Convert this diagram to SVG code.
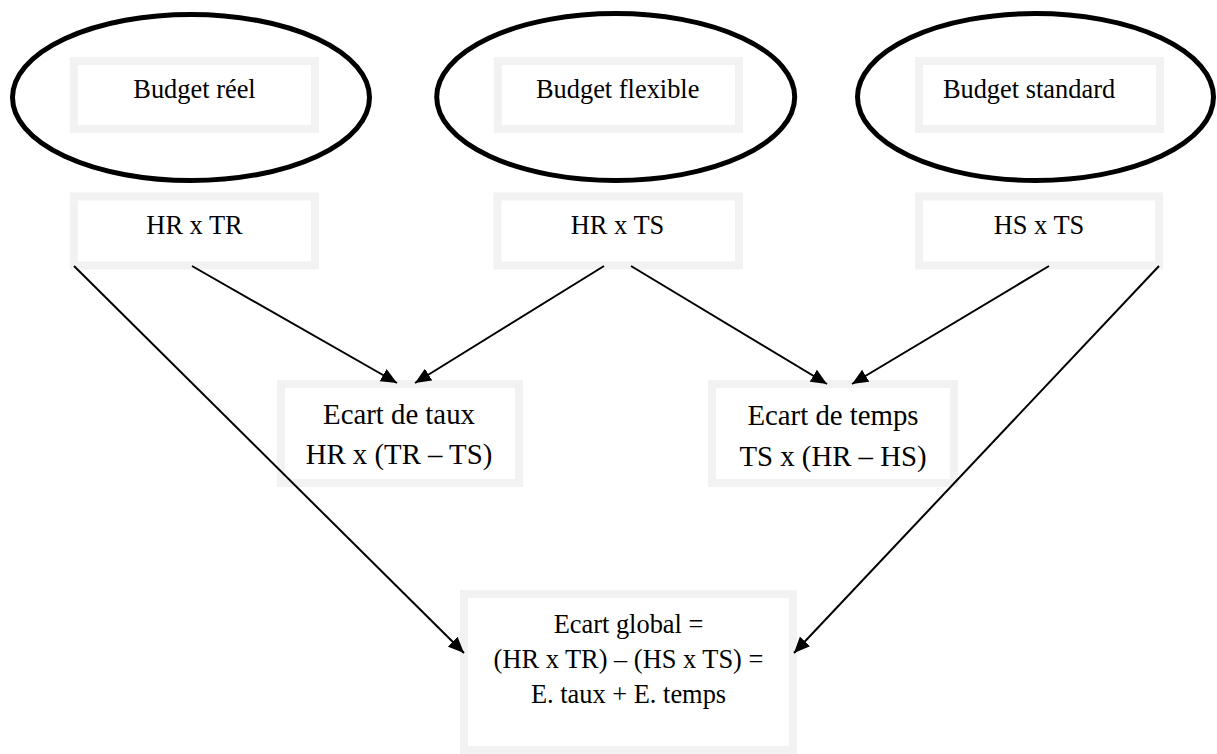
<svg xmlns="http://www.w3.org/2000/svg" width="1217" height="754" viewBox="0 0 1217 754">
  <style>
    .oval { fill: none; stroke: #000; stroke-width: 5; }
    .box { fill: #fff; stroke: #f2f2f2; stroke-width: 8; }
    .lbl { font-family: "Liberation Serif", "Times New Roman", serif; fill: #000; text-anchor: middle; }
    .sm { font-size: 26.4px; }
    .lg { font-size: 28.8px; }
    .edge { stroke: #000; stroke-width: 2; fill: none; marker-end: url(#arrow); }
  </style>
  <defs>
    <marker id="arrow" markerUnits="userSpaceOnUse" markerWidth="18" markerHeight="14" refX="16" refY="7" orient="auto">
      <path d="M0,0 L16,7 L0,14 z" fill="#000"/>
    </marker>
  </defs>
  <rect width="1217" height="754" fill="#fff"/>

  <!-- budget headers -->
  <g id="budget-reel">
    <ellipse class="oval" cx="191" cy="97.5" rx="178.5" ry="83"/>
    <rect class="box" x="74" y="61" width="241" height="68"/>
    <text class="lbl sm" x="194.5" y="98">Budget réel</text>
  </g>
  <g id="budget-flexible">
    <ellipse class="oval" cx="615.7" cy="97" rx="179" ry="83.5"/>
    <rect class="box" x="498" y="61" width="241" height="68"/>
    <text class="lbl sm" x="617.7" y="98">Budget flexible</text>
  </g>
  <g id="budget-standard">
    <ellipse class="oval" cx="1035.5" cy="97" rx="178" ry="83.5"/>
    <rect class="box" x="919" y="61" width="241" height="68"/>
    <text class="lbl sm" x="1029" y="98">Budget standard</text>
  </g>

  <!-- products -->
  <g id="hr-tr">
    <rect class="box" x="74" y="196.5" width="241" height="69"/>
    <text class="lbl sm" x="194.5" y="234">HR x TR</text>
  </g>
  <g id="hr-ts">
    <rect class="box" x="497.5" y="196.5" width="241.5" height="69"/>
    <text class="lbl sm" x="617.5" y="234">HR x TS</text>
  </g>
  <g id="hs-ts">
    <rect class="box" x="919" y="196.5" width="240" height="69"/>
    <text class="lbl sm" x="1039" y="234">HS x TS</text>
  </g>

  <!-- variances -->
  <g id="ecart-taux">
    <rect class="box" x="281" y="384" width="238" height="99"/>
    <text class="lbl lg" x="399" y="424">Ecart de taux</text>
    <text class="lbl lg" x="399" y="464">HR x (TR – TS)</text>
  </g>
  <g id="ecart-temps">
    <rect class="box" x="712" y="384" width="242" height="99"/>
    <text class="lbl lg" x="833" y="425">Ecart de temps</text>
    <text class="lbl lg" x="833" y="466">TS x (HR – HS)</text>
  </g>
  <g id="ecart-global">
    <rect class="box" x="464" y="594" width="329" height="156"/>
    <text class="lbl sm" x="628.5" y="633">Ecart global =</text>
    <text class="lbl sm" x="628.5" y="668">(HR x TR) – (HS x TS) =</text>
    <text class="lbl sm" x="628.5" y="703">E. taux + E. temps</text>
  </g>

  <!-- connectors -->
  <g id="connectors">
    <line class="edge" x1="74" y1="266" x2="464" y2="653"/>
    <line class="edge" x1="192" y1="266" x2="397" y2="383"/>
    <line class="edge" x1="604" y1="266" x2="415" y2="383"/>
    <line class="edge" x1="631" y1="266" x2="827" y2="384"/>
    <line class="edge" x1="1049" y1="266" x2="852" y2="384"/>
    <line class="edge" x1="1159" y1="266" x2="794" y2="653"/>
  </g>
</svg>
